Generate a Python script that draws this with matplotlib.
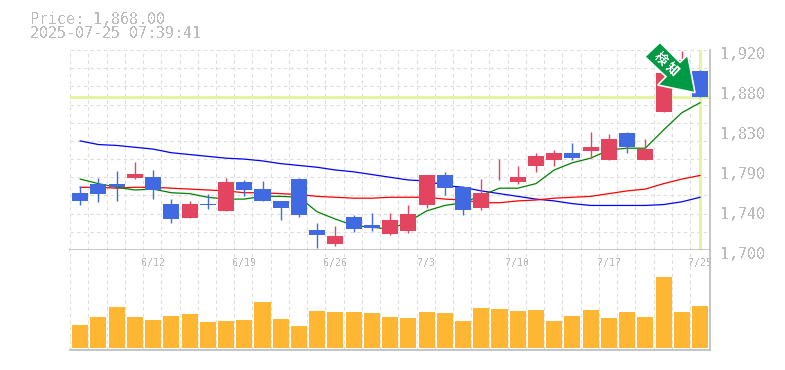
import matplotlib
matplotlib.use('Agg')
import matplotlib.pyplot as plt
from matplotlib.patches import Polygon
from matplotlib.transforms import Affine2D

plt.rcParams['font.family'] = ['DejaVu Sans Mono', 'Noto Sans CJK JP']
plt.rcParams['text.antialiased'] = False

opens = [1763, 1773, 1773, 1779, 1780, 1751, 1735, 1751, 1743, 1775, 1767, 1754,
         1778, 1722, 1707, 1736, 1727, 1718, 1721, 1750, 1783, 1769, 1746, 1782,
         1775, 1792, 1799, 1807, 1809, 1799, 1829, 1799, 1852, 1883, 1897]
highs = [1770, 1779, 1787, 1797, 1788, 1756, 1754, 1762, 1779, 1777, 1776, 1754,
         1779, 1730, 1726, 1739, 1741, 1741, 1750, 1783, 1786, 1770, 1778, 1800,
         1792, 1807, 1810, 1818, 1830, 1828, 1830, 1822, 1895, 1919, 1898]
lows = [1750, 1753, 1754, 1778, 1756, 1730, 1735, 1745, 1743, 1759, 1754, 1733,
        1736, 1702, 1704, 1720, 1721, 1717, 1719, 1746, 1760, 1738, 1744, 1777,
        1773, 1786, 1792, 1799, 1801, 1799, 1807, 1799, 1852, 1883, 1868]
closes = [1754, 1762, 1769, 1784, 1766, 1734, 1751, 1750, 1775, 1766, 1754, 1746,
          1739, 1717, 1715, 1723, 1724, 1733, 1740, 1783, 1768, 1744, 1763, 1783,
          1780, 1803, 1807, 1801, 1813, 1822, 1813, 1811, 1895, 1909, 1868]

ma_short = [1778, 1773, 1769, 1766, 1767, 1763, 1762, 1758, 1756, 1756, 1759, 1759,
            1758, 1742, 1734, 1727, 1725, 1723, 1731, 1743, 1749, 1752, 1760, 1768,
            1768, 1773, 1788, 1796, 1801, 1810, 1812, 1812, 1832, 1851, 1862]
ma_mid = [1769, 1769, 1768, 1769, 1769, 1768, 1767, 1766, 1765, 1763, 1763, 1762,
          1761, 1759, 1758, 1757, 1757, 1758, 1758, 1758, 1756, 1755, 1752, 1752,
          1754, 1755, 1757, 1758, 1759, 1762, 1765, 1767, 1773, 1778, 1782]
ma_long = [1820, 1816, 1815, 1813, 1811, 1807, 1805, 1803, 1801, 1800, 1798, 1795,
           1793, 1791, 1788, 1786, 1783, 1780, 1777, 1776, 1771, 1769, 1765, 1762,
           1759, 1756, 1754, 1751, 1749, 1749, 1749, 1749, 1750, 1753, 1758]

volumes = [23, 31, 41, 31, 28, 32, 34, 26, 27, 28, 46, 29, 22, 37, 36, 36, 35, 31,
           30, 36, 35, 27, 40, 39, 37, 38, 27, 32, 38, 30, 36, 31, 71, 36, 42]

date_ticks = [4, 9, 14, 19, 24, 29, 34]
date_labels = ['6/12', '6/19', '6/26', '7/3', '7/10', '7/17', '7/25']
price_ticks = [1920, 1876, 1832, 1788, 1744, 1700]
price_labels = ['1,920', '1,880', '1,830', '1,790', '1,740', '1,700']
last_price = 1868

RED = '#e3445f'
BLUE = '#4169e1'
GREY = '#bbbbbb'
LIME = '#e3f5a3'

fig = plt.figure(figsize=(7.85, 3.7), dpi=100)
ax = fig.add_axes([70 / 785, 120 / 370, 640 / 785, 200 / 370])
vol = fig.add_axes([70 / 785, 20 / 370, 640 / 785, 100 / 370])

# x scale: one candle = 18.23 px, first candle centre at 80.2 px
xlim = (-10.2 / 18.23, 629.8 / 18.23)
grid_x = [i - 0.55 for i in range(35)]
days = list(range(len(closes)))

for a in (ax, vol):
    a.set_xlim(xlim)
    a.set_xticks([])
    a.set_yticks([])
    for s in a.spines.values():
        s.set_visible(False)
    for gx in grid_x:
        a.axvline(gx, color='#dddddd', lw=0.8, ls=(0, (3, 3)), zorder=1)

ax.set_ylim(1700, 1920)
for p in range(1700, 1921, 20):
    ax.axhline(p, color='#dddddd', lw=0.8, ls=(0, (3, 3)), zorder=1)

ax.axhline(last_price, color=LIME, lw=2.2, zorder=2)
ax.axvline(days[-1], color=LIME, lw=2.2, zorder=2)

# moving averages go under the candles
ax.plot(days, ma_long, color='#0000ff', lw=0.9, zorder=3)
ax.plot(days, ma_mid, color='#ff0000', lw=0.9, zorder=3)
ax.plot(days, ma_short, color='#008000', lw=0.9, zorder=3)

for i in days:
    c = RED if closes[i] >= opens[i] else BLUE
    ax.vlines(i, lows[i], highs[i], color=c, lw=1, zorder=4)
    ax.bar(i, abs(closes[i] - opens[i]), bottom=min(opens[i], closes[i]), width=0.88,
           color=c, zorder=5)

vol.bar(days, volumes, width=0.88, color='#ffb733', zorder=3)
vol.set_ylim(-2, 98)

# solid frame lines
for a in (ax, vol):
    a.spines['bottom'].set_visible(True)
    a.spines['right'].set_visible(True)
    a.spines['bottom'].set_color(GREY)
    a.spines['right'].set_color(GREY)
    a.spines['bottom'].set_linewidth(1.2)
    a.spines['right'].set_linewidth(1.2)

for val, lbl in zip(price_ticks, price_labels):
    ax.annotate(lbl, (1, val), xycoords=ax.get_yaxis_transform(), xytext=(7.2, -3.2),
                textcoords='offset points', va='center', ha='left', fontsize=10.8,
                color=GREY, annotation_clip=False)
for d, lbl in zip(date_ticks, date_labels):
    vol.annotate(lbl, (d, 1), xycoords=vol.get_xaxis_transform(), xytext=(0, -9.5),
                 textcoords='offset points', va='center', ha='center', fontsize=7.2,
                 color=GREY, zorder=6)

fig.text(30 / 785, 1 - 19 / 370, 'Price: 1,868.00', fontsize=10.8, color=GREY, va='center')
fig.text(30 / 785, 1 - 34 / 370, '2025-07-25 07:39:41', fontsize=10.8, color=GREY, va='center')

# arrow marker on top of the last candles, given in image pixels
px = Affine2D().scale(1, -1).translate(0, 370)
arrow = [(660, 42.3), (644.7, 56.7), (666, 76.7), (657.7, 85), (695, 92.7), (687.7, 55), (680, 62.3)]
fig.add_artist(Polygon(arrow, closed=True, transform=px, facecolor='#009944',
                       edgecolor='white', lw=1.2, zorder=10))
fig.text(666.5 / 785, 1 - 63.5 / 370, '検 知', color='white', fontsize=9, fontweight='bold',
         rotation=-43, ha='center', va='center', rotation_mode='anchor', zorder=11,
         family=['Noto Sans CJK JP', 'DejaVu Sans'])

fig.savefig('out.png', dpi=100)
